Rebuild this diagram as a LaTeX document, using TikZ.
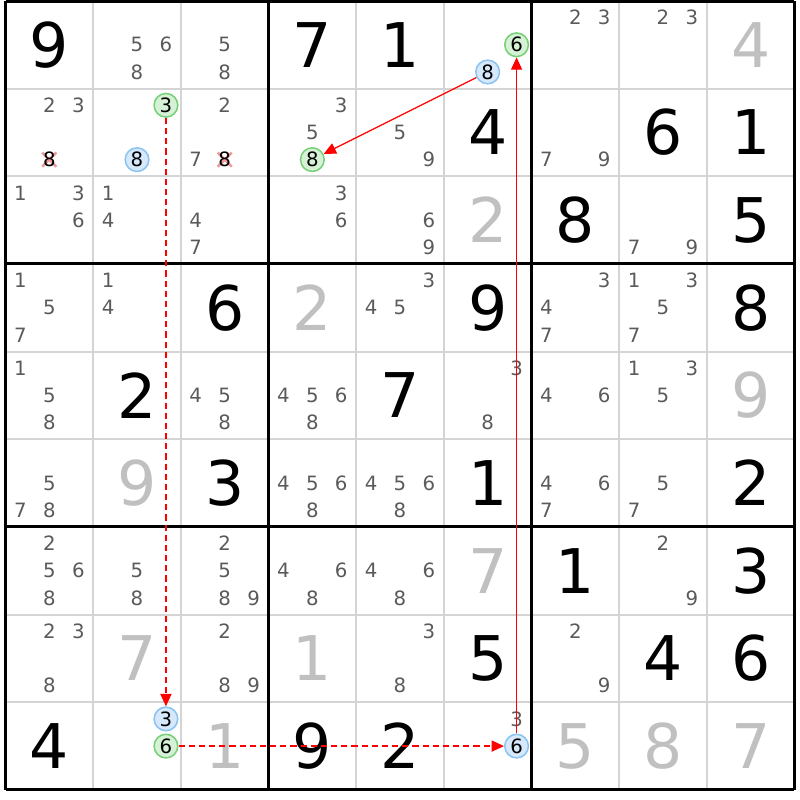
\documentclass[tikz,border=0pt]{standalone}
\usepackage{fontspec}
\setmainfont{DejaVu Sans}
\usetikzlibrary{arrows.meta}
\definecolor{candgray}{RGB}{90,90,90}
\definecolor{solvgray}{RGB}{192,192,192}
\definecolor{gridgray}{RGB}{212,212,212}
\definecolor{onfill}{RGB}{214,242,214}
\definecolor{ondraw}{RGB}{120,208,120}
\definecolor{offfill}{RGB}{214,232,252}
\definecolor{offdraw}{RGB}{140,195,240}
\definecolor{strike}{RGB}{240,150,150}

% candidate #4 in row #2, column #3
\newcommand\putcand[4][cand]{%
  \pgfmathsetmacro\cx{#3-0.5+(mod(#4-1,3)-1)*0.33}%
  \pgfmathsetmacro\cy{9.5-#2-(floor((#4-1)/3)-1)*0.31}%
  \node [#1] (n-#2-#3-#4) at (\cx,\cy) {#4};}

\begin{document}
\begin{tikzpicture}[x=1cm,y=1cm,
    given/.style={font=\fontsize{20}{24}\selectfont},
    solved/.style={given,text=solvgray},
    cand/.style={circle,inner sep=0pt,minimum size=0.27cm,font=\fontsize{6.4}{7}\selectfont,text=candgray},
    oncand/.style={cand,fill=onfill,draw=ondraw,line width=0.5pt,text=black},
    offcand/.style={cand,fill=offfill,draw=offdraw,line width=0.5pt,text=black},
    crossed/.style={cand,text=black,path picture={
        \draw [strike,line width=0.8pt]
          ([shift={(-0.08,-0.08)}]path picture bounding box.center) -- ([shift={(0.08,0.08)}]path picture bounding box.center)
          ([shift={(-0.08,0.08)}]path picture bounding box.center) -- ([shift={(0.08,-0.08)}]path picture bounding box.center);}},
    link/.style={red,line width=0.4pt,-{Triangle[length=4pt,width=3.6pt]}},
    weak/.style={link,dash pattern=on 2pt off 1.3pt}]
  \useasboundingbox (-0.063,-0.114) rectangle (9.063,9.011);

  % grid
  \draw [gridgray,line width=0.6pt] (0,0) grid (9,9);
  \draw [line width=1pt] (0,0) grid[step=3] (9,9);

  % givens and solved cells
  \foreach \r/\c/\v in {1/1/9,1/4/7,1/5/1,2/6/4,2/8/6,2/9/1,3/7/8,3/9/5,4/3/6,4/6/9,4/9/8,
      5/2/2,5/5/7,6/3/3,6/6/1,6/9/2,7/7/1,7/9/3,8/6/5,8/8/4,8/9/6,9/1/4,9/4/9,9/5/2}
    \node [given] (g-\r-\c) at (\c-0.5,9.5-\r) {\v};
  \foreach \r/\c/\v in {1/9/4,3/6/2,4/4/2,5/9/9,6/2/9,7/6/7,8/2/7,8/4/1,9/3/1,9/7/5,9/8/8,9/9/7}
    \node [solved] (g-\r-\c) at (\c-0.5,9.5-\r) {\v};

  % candidates
  \foreach \r/\c/\list in {1/2/{5,6,8},1/3/{5,8},1/7/{2,3},1/8/{2,3},
      2/1/{2,3},2/3/{2,7},2/4/{3,5},2/5/{5,9},2/7/{7,9},
      3/1/{1,3,6},3/2/{1,4},3/3/{4,7},3/4/{3,6},3/5/{6,9},3/8/{7,9},
      4/1/{1,5,7},4/2/{1,4},4/5/{3,4,5},4/7/{3,4,7},4/8/{1,3,5,7},
      5/1/{1,5,8},5/3/{4,5,8},5/4/{4,5,6,8},5/6/{3,8},5/7/{4,6},5/8/{1,3,5},
      6/1/{5,7,8},6/4/{4,5,6,8},6/5/{4,5,6,8},6/7/{4,6,7},6/8/{5,7},
      7/1/{2,5,6,8},7/2/{5,8},7/3/{2,5,8,9},7/4/{4,6,8},7/5/{4,6,8},7/8/{2,9},
      8/1/{2,3,8},8/3/{2,8,9},8/5/{3,8},8/7/{2,9},9/6/{3}}
    \foreach \d in \list
      \putcand{\r}{\c}{\d};

  \putcand[crossed]{2}{1}{8}
  \putcand[crossed]{2}{3}{8}

  \putcand[oncand]{2}{2}{3}
  \putcand[oncand]{9}{2}{6}
  \putcand[oncand]{1}{6}{6}
  \putcand[oncand]{2}{4}{8}
  \putcand[offcand]{2}{2}{8}
  \putcand[offcand]{9}{2}{3}
  \putcand[offcand]{9}{6}{6}
  \putcand[offcand]{1}{6}{8}

  % chain
  \draw [weak] (n-2-2-3) -- (n-9-2-3);
  \draw [weak] (n-9-2-6) -- (n-9-6-6);
  \draw [link] (n-9-6-6) -- (n-1-6-6);
  \draw [link] (n-1-6-8) -- (n-2-4-8);
\end{tikzpicture}
\end{document}
